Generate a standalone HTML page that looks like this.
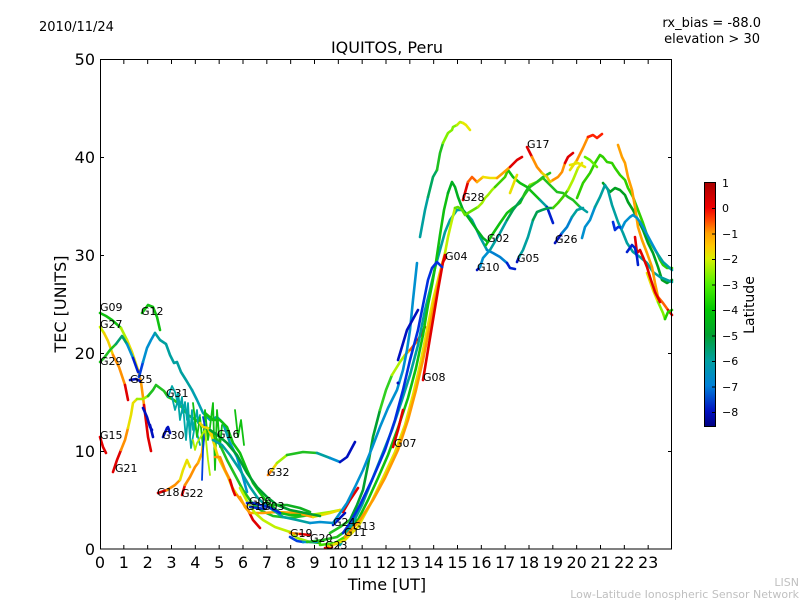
<!DOCTYPE html>
<html><head><meta charset="utf-8"><style>
html,body{margin:0;padding:0;background:#fff;}
svg{display:block;}
text{font-family:"DejaVu Sans","Liberation Sans",sans-serif;}
</style></head><body>
<svg width="800" height="600" viewBox="0 0 800 600" xmlns="http://www.w3.org/2000/svg">
<defs>
<linearGradient id="cb" x1="0" y1="0" x2="0" y2="1">
<stop offset="0" stop-color="#a80000"/>
<stop offset="0.104" stop-color="#f00000"/>
<stop offset="0.15" stop-color="#ff4000"/>
<stop offset="0.208" stop-color="#ffa000"/>
<stop offset="0.26" stop-color="#ffc800"/>
<stop offset="0.3125" stop-color="#d8f000"/>
<stop offset="0.417" stop-color="#50f000"/>
<stop offset="0.52" stop-color="#00c800"/>
<stop offset="0.625" stop-color="#00a030"/>
<stop offset="0.729" stop-color="#00a0a0"/>
<stop offset="0.833" stop-color="#0080d8"/>
<stop offset="0.9375" stop-color="#0010c0"/>
<stop offset="1" stop-color="#000080"/>
</linearGradient>
</defs>
<rect width="800" height="600" fill="#fff"/>

<!-- header texts -->
<text x="39" y="31" font-size="13">2010/11/24</text>
<text x="761" y="27" font-size="13" text-anchor="end">rx_bias = -88.0</text>
<text x="760" y="43" font-size="13" text-anchor="end">elevation &gt; 30</text>
<text x="387" y="53" font-size="16" text-anchor="middle">IQUITOS, Peru</text>

<!-- traces -->
<g fill="none" stroke-width="2.6" stroke-linecap="round" stroke-linejoin="round">
<!-- left region -->
<polyline stroke="#10c010" points="100,313 106,316 112,320 121,328"/>
<polyline stroke="#b0f000" points="121,328 127,340"/>
<polyline stroke="#e8e000" points="127,340 132,352 138,370"/>
<polyline stroke="#ff9a00" points="138,370 141,382 144,405"/>
<polyline stroke="#e00000" points="144,405 148,437 151,451"/>

<polyline stroke="#c8f000" points="100,327 104,333"/>
<polyline stroke="#f0d000" points="104,333 108,341 113,355"/>
<polyline stroke="#ff9000" points="113,355 119,367 125,385"/>
<polyline stroke="#e00000" points="125,385 128,400"/>

<polyline stroke="#20c020" points="100,362 104,358 110,350 116,344"/>
<polyline stroke="#00a070" points="116,344 122,336 127,344"/>
<polyline stroke="#0090d0" points="127,344 133,358"/>
<polyline stroke="#0020d0" points="133,358 138,372"/>

<polyline stroke="#0010c0" points="130,380 136,379 140,381"/>

<polyline stroke="#0040e0" points="139,377 143,362"/>
<polyline stroke="#0090d0" points="143,362 147,348 151,340 155,333"/>
<polyline stroke="#00a0a0" points="155,333 160,340 166,344 170,355 174,363 177,362 181,372 186,380 192,390"/>
<polyline stroke="#00a0b0" points="192,390 197,400 203,413 210,420 217,417 223,423 230,443"/>
<polyline stroke="#0090d0" points="230,443 237,457 243,477 247,492"/>

<polyline stroke="#10c010" points="142,313 148,305 153,307 157,317 160,330"/>

<polyline stroke="#e00000" points="113,472 117,460 121,450"/>
<polyline stroke="#ff9000" points="121,450 125,440 128,428"/>
<polyline stroke="#e8e000" points="128,428 131,415 133,403 137,399"/>
<polyline stroke="#a0f000" points="137,399 143,399 148,396"/>
<polyline stroke="#20c020" points="148,396 153,390 156,385 160,388 164,391 168,397 174,400 180,405 188,415 196,420 205,428 213,433 220,445 227,460 235,475 243,490 252,503 262,511 273,516 290,518 310,515"/>
<polyline stroke="#a0f000" points="310,515 330,512 340,510"/>

<polyline stroke="#0010c0" points="143,408 147,417 150,427 152,430"/>
<polyline stroke="#0010c0" points="163,437 167,428 168,427 170,433"/>
<polyline stroke="#0010c0" points="150,425 153,437"/>
<polyline stroke="#e00000" points="100,437 103,447 106,453"/>

<polyline stroke="#e00000" points="158,493 167,490"/>
<polyline stroke="#ff9000" points="167,490 175,485 180,480"/>
<polyline stroke="#e8e000" points="180,480 183,470 187,460 190,467"/>

<polyline stroke="#e00000" points="182,495 185,485"/>
<polyline stroke="#ff9000" points="185,485 190,477 195,467 198,463"/>
<polyline stroke="#ffb000" points="198,463 202,453 203,443 205,433 208,430 212,433 215,437"/>

<!-- dotted zigzags -->
<g stroke-width="1.8">
<polyline stroke="#00a8a8" points="168,397 172,386 175,392 177,400 178,393 180,407 182,397 183,413 185,402 187,420 188,403 190,437 192,410 193,430 197,410 198,423 200,415"/>
<polyline stroke="#00a8a8" points="172,397 175,410 178,400 180,420 183,405 186,440 188,415 191,448 195,425 200,445"/>
<polyline stroke="#10c010" points="193,403 197,437 200,417 203,447 205,410 208,440 210,427 213,403 215,470 217,410 220,447 222,425"/>
<polyline stroke="#0040e0" points="203,417 205,427 203,450 202,480"/>
<polyline stroke="#b0f000" points="193,440 195,450 197,443 205,430 208,460 210,475"/>
<polyline stroke="#10c010" points="235,410 238,437 241,420 244,445"/>
</g>

<polyline stroke="#f0d800" points="200,423 203,427 208,428 212,437 215,447 218,457 223,467 228,477 232,487 237,495"/>
<polyline stroke="#ff9000" points="237,495 242,502 248,510"/>
<polyline stroke="#e00000" points="248,510 253,520 260,528"/>

<polyline stroke="#ff9000" points="215,457 220,457 225,470 230,480"/>
<polyline stroke="#e00000" points="230,480 233,490 235,495"/>

<polyline stroke="#ffa000" points="240,497 245,507 250,513 263,513 277,512 297,513 313,517"/>
<polyline stroke="#e8e000" points="313,517 330,513 340,510"/>
<polyline stroke="#c0f000" points="240,488 248,503 255,513 263,520 275,527 290,532"/>
<polyline stroke="#a0f000" points="290,532 297,538 310,542"/>
<polyline stroke="#30d000" points="310,542 320,543"/>

<polyline stroke="#10c010" points="205,413 213,420 220,420 227,427 233,443 240,453 247,470 253,483 260,493 267,502 273,507 280,513 290,515 300,515"/>
<polyline stroke="#00a030" points="210,430 220,437 227,443 237,455 247,473 257,487 267,497 277,505 290,510 305,513 320,516"/>
<polyline stroke="#00a0a0" points="213,440 222,445 230,455 240,470 250,487 257,497 263,503 273,510 283,517 297,520 310,523"/>
<polyline stroke="#0090d0" points="310,523 320,522 333,523"/>

<polyline stroke="#0030e0" points="247,503 253,503 260,505 268,507 275,510 280,513"/>
<polyline stroke="#0030d0" points="250,507 258,508 265,509"/>
<polyline stroke="#10b020" points="273,505 287,505 300,508 310,512"/>

<polyline stroke="#ff8000" points="268,475 272,470"/>
<polyline stroke="#f0d800" points="272,470 277,463"/>
<polyline stroke="#a0f000" points="277,463 287,455"/>
<polyline stroke="#20c020" points="287,455 303,452 317,453"/>
<polyline stroke="#00a0a0" points="317,453 330,458"/>
<polyline stroke="#0090d0" points="330,458 340,462"/>
<polyline stroke="#0010c0" points="340,462 347,457 355,442"/>

<polyline stroke="#ff9000" points="290,533 300,534"/>
<polyline stroke="#e00000" points="300,534 310,535"/>
<polyline stroke="#0040e0" points="290,537 297,541 303,542"/>
<polyline stroke="#0090d0" points="303,542 317,542"/>
<polyline stroke="#20c020" points="307,542 323,540 337,537 347,530 357,520"/>
<polyline stroke="#e00000" points="325,548 332,547"/>
<polyline stroke="#ffa000" points="327,546 340,543 345,537"/>
<polyline stroke="#0010c0" points="333,525 340,518 345,513"/>
<polyline stroke="#e00000" points="343,512 350,500 358,488"/>

<!-- rising bundle -->
<polyline stroke="#20c020" points="330,533 340,527 350,520"/>
<polyline stroke="#00a030" points="350,520 357,505 363,490 368,465 373,437 380,410"/>
<polyline stroke="#30d020" points="380,410 386,390 392,375"/>
<polyline stroke="#b0f000" points="392,375 400,362 405,355"/>
<polyline stroke="#ffb000" points="405,355 410,350"/>
<polyline stroke="#ff6000" points="410,350 418,340"/>
<polyline stroke="#e00000" points="418,340 425,327"/>

<polyline stroke="#0090d0" points="333,523 340,513 347,503 355,487 363,470 372,448 380,427 388,408 397,390 403,370 407,350 410,330 413,300 417,263"/>
<polyline stroke="#00a0a0" points="420,237 425,210 428,197"/>
<polyline stroke="#00a860" points="428,197 433,177 437,170"/>
<polyline stroke="#20c020" points="437,170 440,153 443,143"/>
<polyline stroke="#80f000" points="443,143 448,133 452,130 453,127 457,125"/>
<polyline stroke="#c0f000" points="457,125 460,122 463,123"/>
<polyline stroke="#e8e800" points="463,123 466,125 470,130"/>

<polyline stroke="#00a0a0" points="340,545 352,525 362,505 372,480 382,455 392,430 402,400 410,375 418,345 425,310 430,290 435,268 440,250 445,232 450,220 457,210 463,210 472,220 480,237 487,250"/>
<polyline stroke="#0080d0" points="487,250 493,253 500,257 507,263"/>
<polyline stroke="#0020d0" points="507,263 510,268 515,269"/>

<polyline stroke="#40e000" points="320,545 335,543 348,535"/>
<polyline stroke="#10c010" points="348,535 358,520 368,500 378,478 388,455 398,428 408,398 416,368 423,335 428,305 432,285 436,262 440,235 444,210 448,193"/>
<polyline stroke="#00b020" points="448,193 452,182 455,187 458,197 463,210 470,220 477,230 483,238 488,242"/>

<polyline stroke="#e8e000" points="330,546 345,540 358,527 370,505 382,480 395,452 405,425 413,395 420,365 427,330 433,300 440,272 445,253"/>
<polyline stroke="#c0f000" points="445,253 448,237 452,220 455,208"/>
<polyline stroke="#60e000" points="455,208 458,207 462,210 465,215 468,213 473,210 478,207"/>
<polyline stroke="#a0f000" points="478,207 482,203 485,198 488,195 492,190 495,187"/>
<polyline stroke="#40d000" points="495,187 500,182 505,177 508,170"/>
<polyline stroke="#10c010" points="508,170 513,177 520,183 527,187 533,193 540,200"/>
<polyline stroke="#00a0a0" points="540,200 547,207"/>
<polyline stroke="#0020d0" points="547,207 553,223"/>

<polyline stroke="#ff9a00" points="345,537 360,520 373,500 385,478 398,450 408,420 416,390 423,360 430,325 436,295 440,275 443,262"/>
<polyline stroke="#e00000" points="443,262 445,255"/>
<polyline stroke="#e00000" points="423,380 428,350 433,320 438,290 443,262 446,257"/>
<polyline stroke="#0030e0" points="343,533 350,523 360,505 372,480 385,450 395,420 403,390 410,360 418,330 424,300 428,280 432,268 437,262 442,267"/>
<polyline stroke="#e00000" points="393,447 398,430 403,410"/>
<polyline stroke="#0010c0" points="398,360 407,330 418,310"/>
<circle cx="398" cy="383" r="1.5" fill="#0010c0" stroke="none"/>

<!-- 15-19 UT -->
<polyline stroke="#10c010" points="486,245 492,235 500,223 507,213 513,208 520,203 525,193 530,185"/>
<polyline stroke="#80f000" points="530,185 537,182 543,178"/>
<polyline stroke="#20c020" points="543,178 550,185 557,192 563,193 568,197 573,200 580,207"/>
<polyline stroke="#00a0a0" points="580,207 587,212"/>

<polyline stroke="#e00000" points="463,200 468,182"/>
<polyline stroke="#ff6000" points="468,182 472,177 477,182"/>
<polyline stroke="#ffb000" points="477,182 483,177"/>
<polyline stroke="#f0e000" points="483,177 490,178 497,178"/>
<polyline stroke="#ffa000" points="497,178 503,173 510,167"/>
<polyline stroke="#e00000" points="510,167 517,160 522,157"/>

<polyline stroke="#0010c0" points="477,270 480,267"/>
<polyline stroke="#0090d0" points="480,267 483,258 490,250"/>
<polyline stroke="#00a0a0" points="490,250 500,233 507,220"/>
<polyline stroke="#00a050" points="507,220 513,210 523,197"/>
<polyline stroke="#20c020" points="523,197 530,187 537,182 543,177 550,173"/>

<polyline stroke="#e8e000" points="510,193 515,180 517,175"/>

<polyline stroke="#0010c0" points="517,262 519,257"/>
<polyline stroke="#00a0a0" points="519,257 523,250 528,237 533,220"/>
<polyline stroke="#00a050" points="533,220 537,212 542,210 548,208 553,208"/>
<polyline stroke="#40d000" points="553,208 558,203 563,197 568,190"/>
<polyline stroke="#b0f000" points="568,190 573,180 578,168"/>
<polyline stroke="#e8e000" points="578,168 582,163"/>

<polyline stroke="#e00000" points="527,147 532,157"/>
<polyline stroke="#ff9000" points="532,157 537,167 542,173"/>
<polyline stroke="#e8d000" points="542,173 547,177 550,182 553,180"/>
<polyline stroke="#ff9000" points="553,180 558,177 562,172 565,163"/>
<polyline stroke="#e00000" points="565,163 568,157 573,153"/>

<polyline stroke="#0010c0" points="555,243 562,233"/>
<polyline stroke="#0080d0" points="562,233 567,227 572,217"/>
<polyline stroke="#00a0a0" points="572,217 577,210 583,208"/>

<!-- 20-24 UT -->
<polyline stroke="#e8e800" points="570,165 578,163 585,167"/>
<polyline stroke="#e8e000" points="570,170 577,160"/>
<polyline stroke="#ff9000" points="577,160 583,148 588,137"/>
<polyline stroke="#ff2000" points="588,137 593,135 597,138 602,134"/>

<polyline stroke="#30d000" points="577,198 583,183 590,173 595,163 600,155 603,157 607,162 612,163 615,168 620,175 625,180 628,188 633,197 638,210 643,223 647,235 652,245 657,253 660,260 663,265 667,268 672,268"/>
<polyline stroke="#60f000" points="585,157 590,160 597,167"/>
<polyline stroke="#00a020" points="603,183 610,192 615,188 620,190 625,195 628,202 633,210 638,220 643,230 648,243 653,253 658,267 662,280 667,283 672,280"/>

<polyline stroke="#0090d0" points="582,238 585,227 590,220 595,207"/>
<polyline stroke="#00a0a0" points="595,207 600,197 605,185 608,190 612,205 618,222 623,233 627,243 633,252 640,257 647,263 653,272 660,277 667,280 672,282"/>

<polyline stroke="#ffa000" points="618,145 622,157 625,163 628,177 632,190 635,207 638,227 642,240 647,253 652,267 655,283 658,297"/>
<polyline stroke="#ff6000" points="658,297 663,303 668,310"/>
<polyline stroke="#e00000" points="668,310 672,315"/>

<polyline stroke="#e8e000" points="647,273 653,290 658,302"/>
<polyline stroke="#80f000" points="658,302 663,313 665,319"/>
<polyline stroke="#20d000" points="665,319 668,312 672,310"/>

<polyline stroke="#e00000" points="635,237 637,253 640,250 643,257 647,267 650,277 655,292 660,302"/>

<polyline stroke="#0030e0" points="613,222 615,230 618,227 622,228"/>
<polyline stroke="#0090d0" points="622,228 625,222 630,217 633,215 637,218 640,222 643,227 650,240 657,253"/>
<polyline stroke="#00a0a0" points="657,253 663,262 672,270"/>
<polyline stroke="#0020d0" points="627,252 632,245 635,248 637,257 638,265"/>
</g>

<!-- satellite labels -->
<g font-size="11" fill="#000">
<text x="100" y="311">G09</text>
<text x="100" y="328">G27</text>
<text x="100" y="365">G29</text>
<text x="141" y="315">G12</text>
<text x="130" y="383">G25</text>
<text x="166" y="397">G31</text>
<text x="162" y="439">G30</text>
<text x="100" y="439">G15</text>
<text x="217" y="438">G16</text>
<text x="115" y="472">G21</text>
<text x="157" y="496">G18</text>
<text x="181" y="497">G22</text>
<text x="267" y="476">G32</text>
<text x="249" y="505">G06</text>
<text x="246" y="510">G10</text>
<text x="262" y="510">G03</text>
<text x="290" y="537">G19</text>
<text x="310" y="542">G20</text>
<text x="325" y="549">G23</text>
<text x="333" y="526">G24</text>
<text x="353" y="530">G13</text>
<text x="344" y="536">G11</text>
<text x="394" y="447">G07</text>
<text x="423" y="381">G08</text>
<text x="445" y="260">G04</text>
<text x="462" y="201">G28</text>
<text x="477" y="271">G10</text>
<text x="487" y="242">G02</text>
<text x="517" y="262">G05</text>
<text x="527" y="148">G17</text>
<text x="555" y="243">G26</text>
</g>

<!-- axes frame -->
<rect x="100.5" y="59.5" width="571" height="489.5" fill="none" stroke="#000" stroke-width="1"/>
<path stroke="#000" stroke-width="1" fill="none" d="
M123.83,549V545 M147.67,549V545 M171.5,549V545 M195.33,549V545 M219.17,549V545 M243,549V545 M266.83,549V545 M290.67,549V545 M314.5,549V545 M338.33,549V545 M362.17,549V545 M386,549V545 M409.83,549V545 M433.67,549V545 M457.5,549V545 M481.33,549V545 M505.17,549V545 M529,549V545 M552.83,549V545 M576.67,549V545 M600.5,549V545 M624.33,549V545 M648.17,549V545
M123.83,60V64 M147.67,60V64 M171.5,60V64 M195.33,60V64 M219.17,60V64 M243,60V64 M266.83,60V64 M290.67,60V64 M314.5,60V64 M338.33,60V64 M362.17,60V64 M386,60V64 M409.83,60V64 M433.67,60V64 M457.5,60V64 M481.33,60V64 M505.17,60V64 M529,60V64 M552.83,60V64 M576.67,60V64 M600.5,60V64 M624.33,60V64 M648.17,60V64
M100,157.5H104 M100,255.5H104 M100,353.5H104 M100,451.5H104
M672,157.5H668 M672,255.5H668 M672,353.5H668 M672,451.5H668"/>

<!-- y tick labels -->
<g font-size="16" text-anchor="end">
<text x="95" y="65">50</text>
<text x="95" y="163">40</text>
<text x="95" y="261">30</text>
<text x="95" y="359">20</text>
<text x="95" y="457">10</text>
<text x="95" y="555">0</text>
</g>
<!-- x tick labels -->
<g font-size="16" text-anchor="middle">
<text x="100" y="568">0</text>
<text x="123.83" y="568">1</text>
<text x="147.67" y="568">2</text>
<text x="171.5" y="568">3</text>
<text x="195.33" y="568">4</text>
<text x="219.17" y="568">5</text>
<text x="243" y="568">6</text>
<text x="266.83" y="568">7</text>
<text x="290.67" y="568">8</text>
<text x="314.5" y="568">9</text>
<text x="338.33" y="568">10</text>
<text x="362.17" y="568">11</text>
<text x="386" y="568">12</text>
<text x="409.83" y="568">13</text>
<text x="433.67" y="568">14</text>
<text x="457.5" y="568">15</text>
<text x="481.33" y="568">16</text>
<text x="505.17" y="568">17</text>
<text x="529" y="568">18</text>
<text x="552.83" y="568">19</text>
<text x="576.67" y="568">20</text>
<text x="600.5" y="568">21</text>
<text x="624.33" y="568">22</text>
<text x="648.17" y="568">23</text>
</g>
<text x="387" y="590" font-size="16" text-anchor="middle">Time [UT]</text>
<text transform="translate(66,304) rotate(-90)" font-size="16" text-anchor="middle">TEC [UNITS]</text>

<!-- colorbar -->
<rect x="704.5" y="182.5" width="11" height="244" fill="url(#cb)" stroke="#000" stroke-width="1"/>
<path stroke="#000" stroke-width="1" d="M712,208.5H715.5 M712,234H715.5 M712,259.5H715.5 M712,285H715.5 M712,310.5H715.5 M712,336H715.5 M712,361.5H715.5 M712,387H715.5 M712,412.5H715.5"/>
<g font-size="11">
<text x="722" y="187">1</text>
<text x="722" y="212">0</text>
<text x="722" y="238">−1</text>
<text x="722" y="263">−2</text>
<text x="722" y="289">−3</text>
<text x="722" y="314">−4</text>
<text x="722" y="340">−5</text>
<text x="722" y="365">−6</text>
<text x="722" y="391">−7</text>
<text x="722" y="416">−8</text>
</g>
<text transform="translate(754,305) rotate(-90)" font-size="14" text-anchor="middle">Latitude</text>

<!-- watermark -->
<text x="799" y="586" font-size="11" fill="#c0c0c0" text-anchor="end">LISN</text>
<text x="799" y="598" font-size="11" fill="#c0c0c0" text-anchor="end">Low-Latitude Ionospheric Sensor Network</text>
</svg>
</body></html>
